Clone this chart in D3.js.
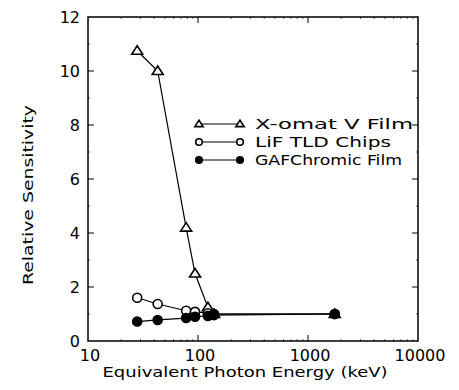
<!DOCTYPE html>
<html>
<head>
<meta charset="utf-8">
<script src="https://cdn.jsdelivr.net/npm/d3@7"></script>
<style>
  body { margin: 0; background: #fff; }
  svg text { font-family: "DejaVu Sans", "Liberation Sans", sans-serif; fill: #000; }
</style>
</head>
<body>
<div id="chart"></div>
<script>
// Data
var energy = [28, 43, 78, 94, 123, 140, 1750];
var xomat = [10.75, 10.0, 4.2, 2.5, 1.25, 1.0, 1.0];
var lif = [1.6, 1.37, 1.12, 1.08, 1.03, 1.0, 1.0];
var gaf = [0.72, 0.78, 0.85, 0.9, 0.93, 0.96, 1.0];
var seriesNames = ["X-omat V Film", "LiF TLD Chips", "GAFChromic Film"];
var xTicks = [10, 100, 1000, 10000];
var yTicks = [0, 2, 4, 6, 8, 10, 12];

var W = 459, H = 390;
var pLeft = 88, pRight = 418, pTop = 17, pBottom = 341;

var svg = d3.select("#chart").append("svg")
    .attr("width", W).attr("height", H);

var x = d3.scaleLog().domain([10, 10000]).range([pLeft, pRight]);
var y = d3.scaleLinear().domain([0, 12]).range([pBottom, pTop]);

// frame
svg.append("rect")
    .attr("x", pLeft).attr("y", pTop)
    .attr("width", pRight - pLeft).attr("height", pBottom - pTop)
    .attr("fill", "none").attr("stroke", "#000").attr("stroke-width", 1.5);

// minor ticks on log axis
var minorX = [];
[10, 100, 1000].forEach(function (d) {
    for (var k = 2; k < 10; k++) minorX.push(d * k);
});
var minorY = d3.range(1, 12, 2);

var ticks = svg.append("g").attr("stroke", "#000");
xTicks.slice(1, 3).forEach(function (d) {
    ticks.append("line").attr("x1", x(d)).attr("x2", x(d)).attr("y1", pBottom).attr("y2", pBottom - 6);
    ticks.append("line").attr("x1", x(d)).attr("x2", x(d)).attr("y1", pTop).attr("y2", pTop + 6);
});
minorX.forEach(function (d) {
    ticks.append("line").attr("x1", x(d)).attr("x2", x(d)).attr("y1", pBottom).attr("y2", pBottom - 2)
        .attr("stroke-width", 0.6);
    ticks.append("line").attr("x1", x(d)).attr("x2", x(d)).attr("y1", pTop).attr("y2", pTop + 2)
        .attr("stroke-width", 0.6);
});
yTicks.slice(1, 6).forEach(function (d) {
    ticks.append("line").attr("x1", pLeft).attr("x2", pLeft + 6).attr("y1", y(d)).attr("y2", y(d));
    ticks.append("line").attr("x1", pRight).attr("x2", pRight - 6).attr("y1", y(d)).attr("y2", y(d));
});
minorY.forEach(function (d) {
    ticks.append("line").attr("x1", pLeft).attr("x2", pLeft + 2).attr("y1", y(d)).attr("y2", y(d))
        .attr("stroke-width", 0.6);
    ticks.append("line").attr("x1", pRight).attr("x2", pRight - 2).attr("y1", y(d)).attr("y2", y(d))
        .attr("stroke-width", 0.6);
});

// tick labels
svg.selectAll(".xlab").data(xTicks).enter().append("text")
    .attr("x", function (d) { return x(d) + 2; })
    .attr("y", pBottom + 20)
    .attr("text-anchor", "middle")
    .style("font-size", "16px")
    .text(function (d) { return d; });

svg.selectAll(".ylab").data(yTicks).enter().append("text")
    .attr("x", pLeft - 8)
    .attr("y", function (d) { return y(d) + 6; })
    .attr("text-anchor", "end")
    .style("font-size", "16px")
    .text(function (d) { return d; });

// axis titles
svg.append("text")
    .attr("x", 245).attr("y", 377)
    .attr("text-anchor", "middle")
    .style("font-size", "14px")
    .attr("textLength", 285).attr("lengthAdjust", "spacingAndGlyphs")
    .text("Equivalent Photon Energy (keV)");

svg.append("text")
    .attr("transform", "translate(33,195)rotate(-90)")
    .attr("text-anchor", "middle")
    .style("font-size", "14px")
    .attr("textLength", 180).attr("lengthAdjust", "spacingAndGlyphs")
    .text("Relative Sensitivity");

// series
var series = [xomat, lif, gaf];
var line = d3.line()
    .x(function (d, i) { return x(energy[i]); })
    .y(function (d) { return y(d); });

series.forEach(function (vals) {
    svg.append("path").datum(vals)
        .attr("fill", "none").attr("stroke", "#000").attr("stroke-width", 1.2)
        .attr("d", line);
});

function marker(g, kind, cx, cy, s) {
    if (kind === 0) {
        g.append("path")
            .attr("d", "M" + cx + "," + (cy - s) + "L" + (cx + s * 1.1) + "," + (cy + s * 0.7) +
                "L" + (cx - s * 1.1) + "," + (cy + s * 0.7) + "Z")
            .attr("fill", "#fff").attr("stroke", "#000").attr("stroke-width", 1.6);
    } else {
        g.append("circle").attr("cx", cx).attr("cy", cy).attr("r", s)
            .attr("fill", kind === 2 ? "#000" : "#fff")
            .attr("stroke", "#000").attr("stroke-width", 1.6);
    }
}

var marks = svg.append("g");
// triangles, then open circles, filled dots on top
[0, 1, 2].forEach(function (k) {
    series[k].forEach(function (v, i) {
        marker(marks, k, x(energy[i]), y(v), k === 0 ? 5 : 4.5);
    });
});

// legend
var legY = [124, 142, 160];
var legW = [158, 136, 147];
var leg = svg.append("g");
seriesNames.forEach(function (name, k) {
    leg.append("line").attr("x1", 199).attr("x2", 240)
        .attr("y1", legY[k]).attr("y2", legY[k])
        .attr("stroke", "#000").attr("stroke-width", 1.2);
    marker(leg, k, 199, legY[k], k === 0 ? 3.8 : 3.3);
    marker(leg, k, 240, legY[k], k === 0 ? 3.8 : 3.3);
    leg.append("text")
        .attr("x", 255).attr("y", legY[k] + 5)
        .style("font-size", "14px")
        .attr("textLength", legW[k]).attr("lengthAdjust", "spacingAndGlyphs")
        .text(name);
});
</script>
</body>
</html>
